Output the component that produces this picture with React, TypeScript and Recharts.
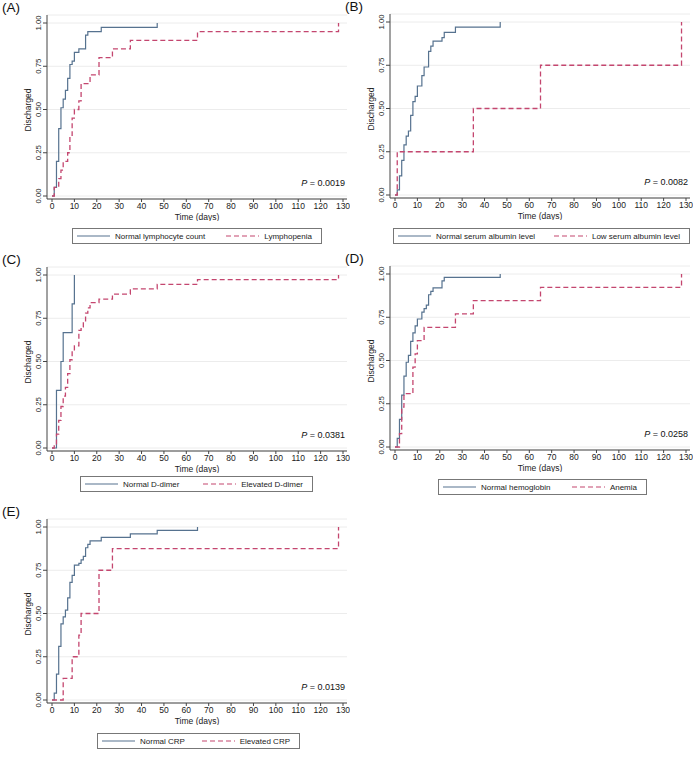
import React from 'react';
import { LineChart, Line, XAxis, YAxis, CartesianGrid } from 'recharts';

type Pt = [number, number];

const timeTicks = [0, 10, 20, 30, 40, 50, 60, 70, 80, 90, 100, 110, 120, 130];
const probTicks = [0, 0.25, 0.5, 0.75, 1];

// (A) lymphocyte count
const lymphNormal: Pt[] = [[0, 0], [1, 0.05], [2, 0.2], [3, 0.39], [4, 0.51], [5, 0.56], [6, 0.61], [7, 0.68], [8, 0.76], [9, 0.78], [10, 0.83], [12, 0.85], [15, 0.93], [16, 0.95], [22, 0.975], [47, 1]];
const lymphLow: Pt[] = [[0, 0], [1, 0.05], [3, 0.1], [4, 0.15], [5, 0.2], [7, 0.25], [8, 0.35], [9, 0.45], [10, 0.5], [12, 0.55], [13, 0.65], [17, 0.7], [21, 0.8], [27, 0.85], [35, 0.9], [65, 0.95], [128, 1]];

// (B) serum albumin
const albNormal: Pt[] = [[0, 0], [1, 0.03], [2, 0.11], [3, 0.2], [4, 0.29], [5, 0.34], [6, 0.37], [7, 0.46], [8, 0.54], [9, 0.57], [10, 0.63], [12, 0.69], [13, 0.74], [15, 0.83], [16, 0.86], [17, 0.89], [21, 0.91], [22, 0.94], [27, 0.97], [47, 1]];
const albLow: Pt[] = [[0, 0], [1, 0.25], [35, 0.5], [65, 0.75], [128, 1]];

// (C) D-dimer
const ddNormal: Pt[] = [[0, 0], [2, 0.333], [4, 0.5], [5, 0.667], [9, 0.833], [10, 1]];
const ddHigh: Pt[] = [[0, 0], [1, 0.02], [2, 0.08], [3, 0.16], [4, 0.24], [5, 0.3], [6, 0.35], [7, 0.43], [8, 0.51], [9, 0.56], [10, 0.59], [12, 0.68], [13, 0.7], [14, 0.73], [15, 0.78], [16, 0.81], [17, 0.84], [21, 0.86], [27, 0.89], [35, 0.92], [47, 0.946], [65, 0.973], [128, 1]];

// (D) hemoglobin
const hbNormal: Pt[] = [[0, 0], [1, 0.05], [2, 0.16], [3, 0.3], [4, 0.41], [5, 0.49], [6, 0.53], [7, 0.61], [8, 0.66], [9, 0.7], [10, 0.74], [12, 0.78], [13, 0.8], [14, 0.82], [15, 0.88], [16, 0.9], [17, 0.92], [21, 0.96], [22, 0.98], [47, 1]];
const hbAnemia: Pt[] = [[0, 0], [2, 0.077], [3, 0.231], [4, 0.308], [8, 0.462], [9, 0.538], [10, 0.615], [13, 0.692], [27, 0.769], [35, 0.846], [65, 0.923], [128, 1]];

// (E) CRP
const crpNormal: Pt[] = [[0, 0], [1, 0.04], [2, 0.15], [3, 0.31], [4, 0.44], [5, 0.48], [6, 0.52], [7, 0.59], [8, 0.68], [9, 0.72], [10, 0.78], [12, 0.79], [13, 0.81], [14, 0.83], [15, 0.88], [16, 0.9], [17, 0.92], [22, 0.94], [35, 0.96], [47, 0.98], [65, 1]];
const crpHigh: Pt[] = [[0, 0], [5, 0.125], [9, 0.25], [12, 0.375], [13, 0.5], [21, 0.75], [27, 0.875], [128, 1]];

const BLUE = '#56728f';
const RED = '#c4466f';
const AXIS = '#444';
const FONT = '"Liberation Sans", Arial, Helvetica, sans-serif';

const toRows = (pts: Pt[]) => pts.map(([t, v]) => ({ t, v }));

const renderYTick = (props: any) => {
  const { x, y, payload } = props;
  return (
    <text x={x} y={y} transform={`rotate(-90 ${x} ${y})`} textAnchor="middle"
      fontSize={7.8} fill="#222" fontFamily={FONT}>
      {Number(payload.value).toFixed(2)}
    </text>
  );
};

const renderYTitle = () => (
  <text x={31} y={110} transform="rotate(-90 31 110)" textAnchor="middle"
    fontSize={8.5} fill="#222" fontFamily={FONT}>
    Discharged
  </text>
);

interface LegendBox { left: number; top: number; width: number }

interface PanelProps {
  tag: string;
  left: number;
  top: number;
  normal: Pt[];
  other: Pt[];
  normalName: string;
  otherName: string;
  p: string;
  legend: LegendBox;
}

function KeySample({ color, dashed }: { color: string; dashed?: boolean }) {
  return (
    <svg width={33} height={6} style={{ display: 'block' }}>
      <line x1={0} y1={3} x2={33} y2={3} stroke={color} strokeWidth={1.2}
        strokeDasharray={dashed ? '5 3' : undefined} />
    </svg>
  );
}

function Panel({ tag, left, top, normal, other, normalName, otherName, p, legend }: PanelProps) {
  return (
    <div style={{ position: 'absolute', left, top, width: 350, height: 250 }}>
      <div style={{ position: 'absolute', left: 2, top: 0, fontSize: 13.5, fontFamily: FONT, color: '#111' }}>{tag}</div>
      <LineChart width={350} height={221} margin={{ top: 15, right: 3, bottom: 0, left: 0 }}>
        <CartesianGrid vertical={false} stroke="#ececec" />
        <XAxis dataKey="t" type="number" domain={[0, 130]} ticks={timeTicks} padding={{ left: 5, right: 4 }}
          tickSize={3} tickMargin={1} stroke={AXIS} height={22}
          tick={{ fontSize: 8.5, fill: '#222', fontFamily: FONT }}
          label={{ value: 'Time (days)', position: 'insideBottom', offset: 1, fontSize: 8.5, fill: '#222', fontFamily: FONT }} />
        <YAxis type="number" domain={[0, 1]} ticks={probTicks} width={47} padding={{ top: 8, bottom: 3 }}
          tickSize={4} tickMargin={2} stroke={AXIS} tick={renderYTick}
          label={{ content: renderYTitle }} />
        <Line data={toRows(normal)} dataKey="v" type="stepAfter" stroke={BLUE} strokeWidth={1.2}
          dot={false} activeDot={false} isAnimationActive={false} />
        <Line data={toRows(other)} dataKey="v" type="stepAfter" stroke={RED} strokeWidth={1.3}
          strokeDasharray="5 3" dot={false} activeDot={false} isAnimationActive={false} />
      </LineChart>
      <div style={{ position: 'absolute', left: 0, width: 345, top: 178, textAlign: 'right', fontSize: 9, lineHeight: '11px', fontFamily: FONT, color: '#111' }}>
        <i>P</i> = {p}
      </div>
      <div style={{
        position: 'absolute', left: legend.left, top: legend.top, width: legend.width, height: 16,
        border: '1px solid #777', boxSizing: 'border-box', display: 'flex', alignItems: 'center',
        justifyContent: 'space-between', paddingLeft: 4, paddingRight: 9,
        fontSize: 8, fontFamily: FONT, color: '#222', background: '#fff'
      }}>
        <div style={{ display: 'flex', alignItems: 'center', gap: 5 }}>
          <KeySample color={BLUE} />
          <span>{normalName}</span>
        </div>
        <div style={{ display: 'flex', alignItems: 'center', gap: 5 }}>
          <KeySample color={RED} dashed />
          <span>{otherName}</span>
        </div>
      </div>
    </div>
  );
}

export default function App() {
  return (
    <div style={{ position: 'absolute', left: 0, top: 0, width: 700, height: 760, background: '#fff' }}>
      <Panel tag="(A)" left={0} top={0} normal={lymphNormal} other={lymphLow}
        normalName="Normal lymphocyte count" otherName="Lymphopenia" p="0.0019"
        legend={{ left: 72, top: 228, width: 250 }} />
      <Panel tag="(B)" left={343} top={-1} normal={albNormal} other={albLow}
        normalName="Normal serum albumin level" otherName="Low serum albumin level" p="0.0082"
        legend={{ left: 50, top: 229, width: 297 }} />
      <Panel tag="(C)" left={0} top={252} normal={ddNormal} other={ddHigh}
        normalName="Normal D-dimer" otherName="Elevated D-dimer" p="0.0381"
        legend={{ left: 80, top: 224, width: 233 }} />
      <Panel tag="(D)" left={343} top={251} normal={hbNormal} other={hbAnemia}
        normalName="Normal hemoglobin" otherName="Anemia" p="0.0258"
        legend={{ left: 95, top: 228, width: 209 }} />
      <Panel tag="(E)" left={0} top={504} normal={crpNormal} other={crpHigh}
        normalName="Normal CRP" otherName="Elevated CRP" p="0.0139"
        legend={{ left: 97, top: 229, width: 203 }} />
    </div>
  );
}
